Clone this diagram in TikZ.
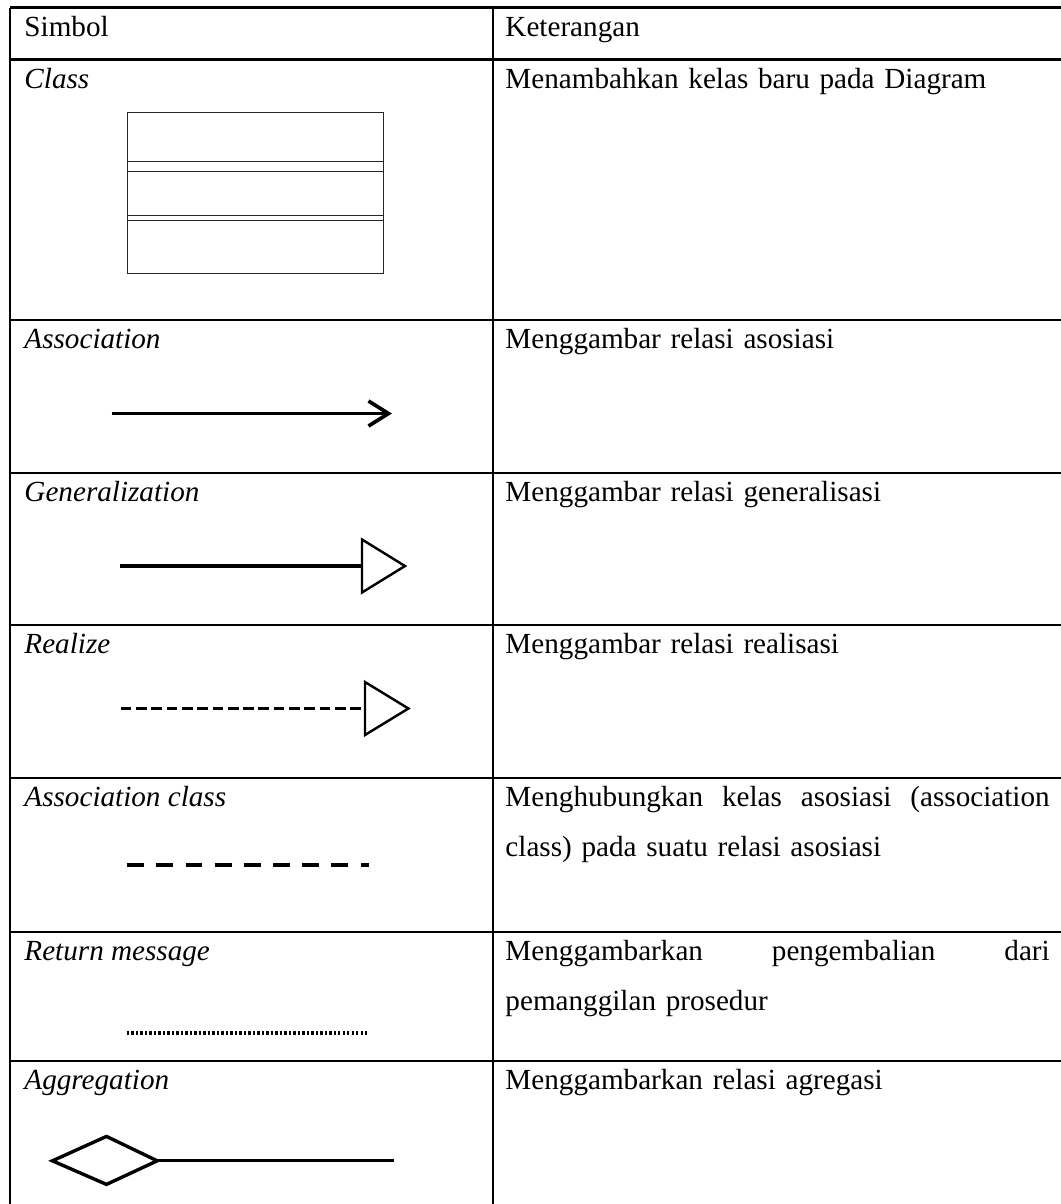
\documentclass[tikz,border=0pt]{standalone}
\usepackage{fontspec}
\setmainfont{Liberation Serif}
\usetikzlibrary{positioning}

\begin{document}
\begin{tikzpicture}[x=0.01446cm,y=-0.01446cm,
    garis/.style={line width=1.1pt},
    tipis/.style={line width=0.5pt,color=black!85},
    tebal/.style={line width=1.5pt},
    simbol/.style={anchor=base west,inner sep=0pt,font=\fontsize{12}{20.7}\selectfont\itshape},
    ket/.style={anchor=base west,inner sep=0pt,font=\fontsize{12}{20.7}\selectfont,text width=224pt,align=left}]
            \useasboundingbox (0,0) rectangle (1061,1204);
            % tabel
            \foreach \y in {7.5,59.5,320,473,625,778,932,1061}
              \draw[garis] (10,\y) -- (1061,\y);
            \draw[garis] (10,7.5) -- (10,1204);
            \draw[garis] (493,7.5) -- (493,1204);
            % kolom simbol
            \node[simbol,font=\fontsize{12}{20.7}\selectfont] (simbol) at (24,36) {Simbol};
            \node[simbol] (class) at (24,88) {Class};
            \node[simbol] (assoc) at (24,348.5) {Association};
            \node[simbol] (gen) at (24,501.5) {Generalization};
            \node[simbol] (real) at (24,653.5) {Realize};
            \node[simbol] (assocclass) at (24,806.5) {Association class};
            \node[simbol] (retmsg) at (24,960.5) {Return message};
            \node[simbol] (aggr) at (24,1089.5) {Aggregation};
            % kolom keterangan
            \node[ket] (ketr) at (505,36) {Keterangan};
            \node[ket] (ketclass) at (505,88) {Menambahkan kelas baru pada Diagram};
            \node[ket] (ketassoc) at (505,348.5) {Menggambar relasi asosiasi};
            \node[ket] (ketgen) at (505,501.5) {Menggambar relasi generalisasi};
            \node[ket] (ketreal) at (505,653.5) {Menggambar relasi realisasi};
            \node[ket] (ketassocclass) at (505,806.5) {Menghubungkan\hfill kelas\hfill asosiasi\hfill (association\\class) pada suatu relasi asosiasi};
            \node[ket] (ketretmsg) at (505,960.5) {Menggambarkan\hfill pengembalian\hfill dari\\pemanggilan prosedur};
            \node[ket] (ketaggr) at (505,1089.5) {Menggambarkan relasi agregasi};
            % simbol class
            \draw[tipis] (127.5,112.6) rectangle (383.7,273.8);
            \foreach \y in {161.6,171.4,215.7,220.1}
              \draw[tipis] (127.5,\y) -- (383.7,\y);
            % association
            \draw[tebal] (111.6,413.5) -- (386,413.5);
            \draw[tebal] (368.5,401) -- (388.5,413.5) -- (368.5,426);
            % generalization
            \draw[tebal] (120,566) -- (362,566);
            \draw[line width=1pt] (362,539.5) -- (405,566) -- (362,592.5) -- cycle;
            % realize
            \draw[tebal,dash pattern=on 4.4pt off 1.9pt] (120.7,708.5) -- (365,708.5);
            \draw[line width=1pt] (365,682) -- (408.4,708.5) -- (365,735) -- cycle;
            % association class
            \draw[tebal,dash pattern=on 6.9pt off 5.1pt] (127.3,865) -- (369.3,865);
            % return message
            \draw[line width=1.5pt,dash pattern=on 1pt off 0.85pt] (126.8,1033) -- (369,1033);
            % aggregation
            \draw[line width=1.4pt] (52.4,1160.8) -- (106.5,1136.4) -- (157.2,1160.8) -- (106.5,1184.4) -- cycle;
            \draw[line width=1.3pt] (157.2,1160.8) -- (394,1160.8);
          \end{tikzpicture}
\end{document}
